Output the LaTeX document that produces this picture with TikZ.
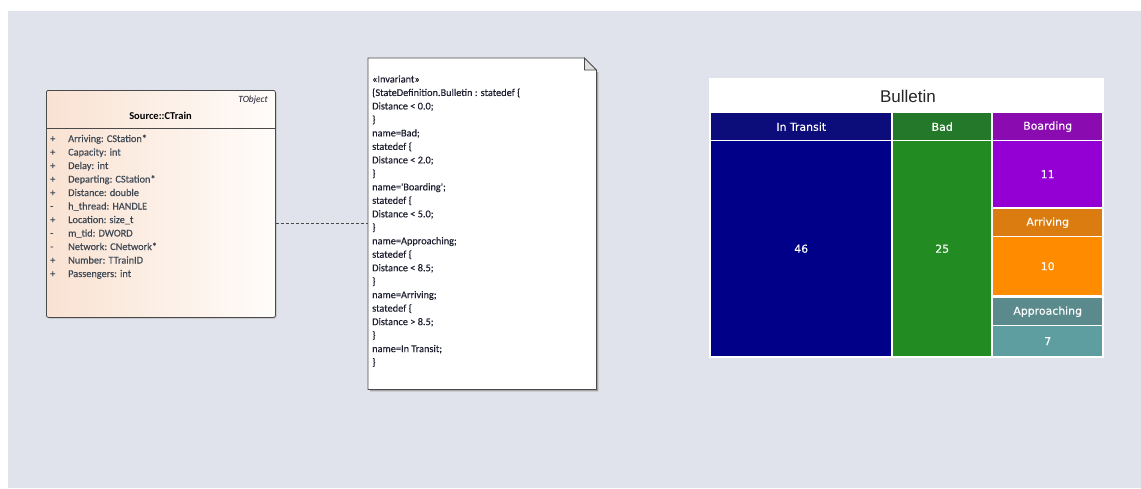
\documentclass[tikz,border=0pt]{standalone}
\usepackage{fontspec}
\setmainfont{Carlito}
\newfontfamily\notefont[FakeBold=0.3]{Carlito}
\newfontfamily\chartfont[FakeBold=0.25]{DejaVu Sans}
\newfontfamily\titlefont{Liberation Sans}
\usetikzlibrary{calc}
\definecolor{bgc}{HTML}{E0E3EB}
\definecolor{classL}{HTML}{F9E2D2}
\definecolor{classR}{HTML}{FFFCFA}
\definecolor{edge}{HTML}{4A4A4A}
\definecolor{attrc}{HTML}{3E4854}
\definecolor{notec}{HTML}{1E2030}
\definecolor{itH}{HTML}{0C0C7A}
\definecolor{itB}{HTML}{000088}
\definecolor{bdH}{HTML}{24782A}
\definecolor{bdB}{HTML}{228B22}
\definecolor{boH}{HTML}{8A0CB0}
\definecolor{boB}{HTML}{9400D3}
\definecolor{arH}{HTML}{DB7C10}
\definecolor{arB}{HTML}{FF8C00}
\definecolor{apH}{HTML}{5A8A8C}
\definecolor{apB}{HTML}{5F9EA0}
\tikzset{
  attr/.style={anchor=base west, inner sep=0pt, text=attrc, font=\notefont\fontsize{10.3}{12}\selectfont},
  notetxt/.style={anchor=base west, inner sep=0pt, text=notec, font=\notefont\fontsize{10.3}{12}\selectfont},
  cell/.style={anchor=north west, inner sep=0pt, draw=none, text=white, font=\chartfont\fontsize{10.9}{12}\selectfont},
}
\begin{document}
\begin{tikzpicture}[x=1pt,y=-1pt]
\useasboundingbox (0,0) rectangle (1141,488);
\fill[white] (0,0) rectangle (1141,488);
\fill[bgc] (8,11) rectangle (1141,488);

% class box
\fill[gray!55, rounded corners=2pt] (47.5,91.5) rectangle (276.5,318.5);
\node[anchor=north west, minimum width=229pt, minimum height=227pt, inner sep=0pt,
      draw=edge, line width=0.8pt, rounded corners=2pt, left color=classL, right color=classR] (cls) at (46,90) {};
\draw[edge, line width=0.8pt] ($(cls.north west)+(0,38)$) -- ($(cls.north east)+(0,38)$);
\node[anchor=base east, inner sep=0pt, font=\itshape\fontsize{9.5}{11}\selectfont, text=notec] (stereo) at (268,102) {TObject};
\node[anchor=base, inner sep=0pt, font=\bfseries\fontsize{10.5}{12}\selectfont, text=black] (ctitle) at (160.5,119) {Source::CTrain};
\foreach \v/\t [count=\i] in {
  +/{Arriving: CStation*},
  +/{Capacity: int},
  +/{Delay: int},
  +/{Departing: CStation*},
  +/{Distance: double},
  -/{h\_thread: HANDLE},
  +/{Location: size\_t},
  -/{m\_tid: DWORD},
  -/{Network: CNetwork*},
  +/{Number: TTrainID},
  +/{Passengers: int}} {
  \node[attr] (v\i) at (50,{128.5+13.5*\i}) {\v};
  \node[attr] (a\i) at (68,{128.5+13.5*\i}) {\t};
}

% note
\node[anchor=north west, minimum width=228pt, minimum height=331pt, inner sep=0pt] (note) at (368,58) {};
\fill[gray!70] ($(note.north east)+(2,14)$) -- ($(note.south east)+(2,2)$) -- ($(note.south west)+(2,2)$) -- ($(note.south west)+(2,0)$) -- ($(note.south east)+(0,0)$) -- ($(note.north east)+(0,14)$) -- cycle;
\filldraw[fill=white, draw=edge, line width=0.8pt]
  (note.north west) -- ($(note.north east)+(-12,0)$) -- ($(note.north east)+(0,12)$) -- (note.south east) -- (note.south west) -- cycle;
\filldraw[fill=gray!25, draw=edge, line width=0.8pt]
  ($(note.north east)+(-12,0)$) -- ($(note.north east)+(-12,12)$) -- ($(note.north east)+(0,12)$) -- cycle;
\foreach \t [count=\i] in {
  {«Invariant»},
  {\{StateDefinition.Bulletin : statedef \{},
  {Distance < 0.0;},
  {\}},
  {name=Bad;},
  {statedef \{},
  {Distance < 2.0;},
  {\}},
  {name='Boarding';},
  {statedef \{},
  {Distance < 5.0;},
  {\}},
  {name=Approaching;},
  {statedef \{},
  {Distance < 8.5;},
  {\}},
  {name=Arriving;},
  {statedef \{},
  {Distance > 8.5;},
  {\}},
  {name=In Transit;},
  {\}}} {
  \node[notetxt] (n\i) at (372,{69+13.48*\i}) {\t};
}

% connector
\coordinate (cy) at (0,223);
\draw[edge, line width=0.8pt, dash pattern=on 3pt off 2pt] (cls.east |- cy) -- (note.west |- cy);

% chart
\node[anchor=north west, minimum width=395pt, minimum height=280pt, inner sep=0pt, fill=white] (chart) at (709,78) {};
\node[inner sep=0pt, font=\titlefont\fontsize{17}{20}\selectfont, text=black!85] (ttl) at (908,96) {Bulletin};

\node[cell, fill=itH, minimum width=180pt, minimum height=27pt] (itHd) at (711,113) {In Transit};
\node[cell, fill=itB, minimum width=180pt, minimum height=215pt] (itBd) at (711,141) {46};
\node[cell, fill=bdH, minimum width=98pt, minimum height=27pt] (bdHd) at (893,113) {Bad};
\node[cell, fill=bdB, minimum width=98pt, minimum height=215pt] (bdBd) at (893,141) {25};
\node[cell, fill=boH, minimum width=109pt, minimum height=27pt] (boHd) at (993,113) {Boarding};
\node[cell, fill=boB, minimum width=109pt, minimum height=66pt] (boBd) at (993,141) {11};
\node[cell, fill=arH, minimum width=109pt, minimum height=27pt] (arHd) at (993,209) {Arriving};
\node[cell, fill=arB, minimum width=109pt, minimum height=58pt] (arBd) at (993,237) {10};
\node[cell, fill=apH, minimum width=109pt, minimum height=27pt] (apHd) at (993,298) {Approaching};
\node[cell, fill=apB, minimum width=109pt, minimum height=30pt] (apBd) at (993,326) {7};
\end{tikzpicture}
\end{document}
